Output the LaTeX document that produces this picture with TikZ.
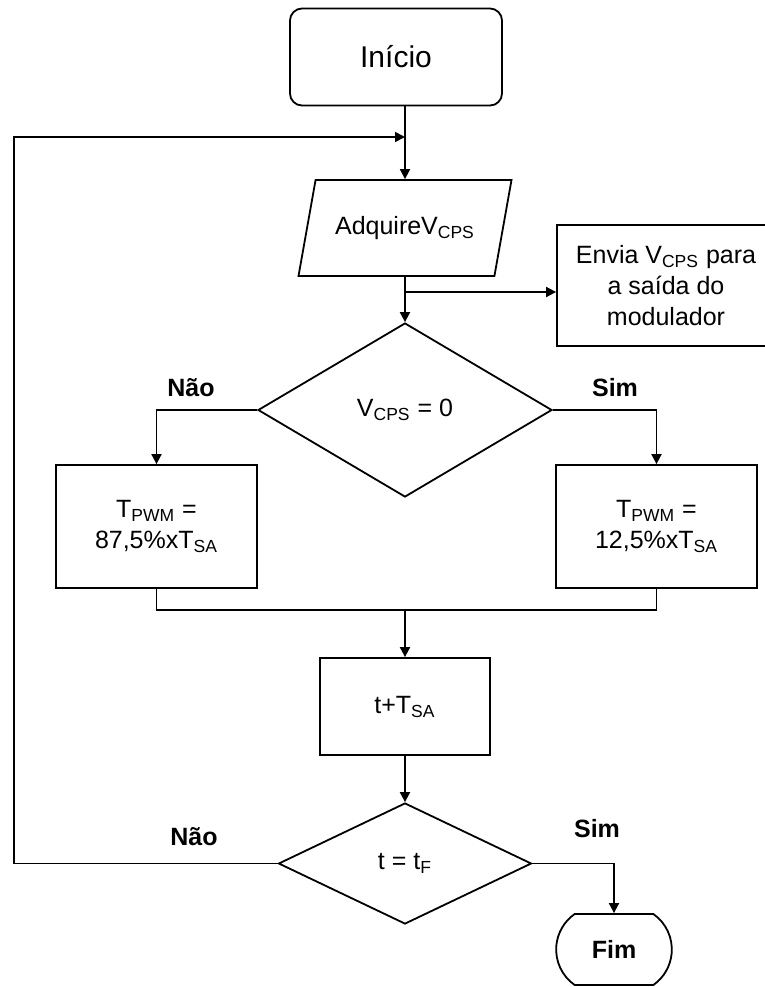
\documentclass[tikz,border=0pt]{standalone}
\usepackage{fontspec}
\setmainfont{Liberation Sans}
\usetikzlibrary{shapes.geometric, shapes.misc, arrows.meta}

\tikzset{
  inicio/.style={draw, rounded corners=6pt, minimum width=106pt, minimum height=48.5pt,
    font=\fontsize{15}{18}\selectfont},
  entrada/.style={draw, trapezium, trapezium left angle=65, trapezium right angle=115,
    trapezium stretches body, minimum width=106.5pt, minimum height=48pt},
  caixa/.style={draw, rectangle, align=center, inner sep=2pt},
  decisao/.style={draw, diamond, inner sep=0pt},
  terminal/.style={draw, rounded rectangle, rounded rectangle arc length=110,
    minimum width=64.5pt, minimum height=35.5pt, font=\fontsize{12.5}{15.5}\selectfont\bfseries},
  rotulo/.style={font=\fontsize{12.5}{15.5}\selectfont\bfseries},
}

\begin{document}
\begin{tikzpicture}[x=0.5pt, y=-0.5pt, line width=0.9pt, >={Triangle[length=5pt,width=5pt]},
    font=\fontsize{12.5}{15.5}\selectfont]

        \useasboundingbox (0,0) rectangle (765,987);

        % Start
        \node[inicio] (ini) at (396,57) {Início};

        % Read V_CPS
        \node[entrada] (adq) at (405,228) {AdquireV\textsubscript{CPS}};
        \coordinate (retorno) at (405,137);
        \coordinate (ramo) at (405,292);

        % Output to modulator
        \node[caixa, minimum width=109pt, minimum height=60.5pt] (envia) at (666,285.5)
            {Envia V\textsubscript{CPS} para\\a saída do\\modulador};

        % First decision
        \node[decisao, minimum width=147pt, minimum height=87pt] (d1) at (405,410)
            {V\textsubscript{CPS} = 0};
        \node[caixa, minimum width=100.5pt, minimum height=61.5pt] (esq) at (156.5,526.5)
            {T\textsubscript{PWM} =\\87,5\%xT\textsubscript{SA}};
        \node[caixa, minimum width=100.5pt, minimum height=61.5pt] (dir) at (656.5,526.5)
            {T\textsubscript{PWM} =\\12,5\%xT\textsubscript{SA}};
        \node[rotulo] (nao1) at (191,388) {Não};
        \node[rotulo] (sim1) at (615,388) {Sim};

        % Time step
        \coordinate (juncao) at (405,610);
        \node[caixa, minimum width=85pt, minimum height=48.5pt] (soma) at (405,706.5)
            {t+T\textsubscript{SA}};

        % Second decision
        \node[decisao, minimum width=126.5pt, minimum height=60.5pt] (d2) at (405,863.5)
            {t = t\textsubscript{F}};
        \node[rotulo] (nao2) at (194,837) {Não};
        \node[rotulo] (sim2) at (597,829) {Sim};

        % End
        \node[terminal] (fim) at (614,949.5) {Fim};

        % Connectors
        \draw[->] (ini.south -| adq.north) -- (adq.north);
        \draw[->] (ramo) -- (ramo -| envia.west);
        \draw[->] (adq.south) -- (d1.north);
        \draw[->] (d1.west) -| (esq.north);
        \draw[->] (d1.east) -| (dir.north);
        \draw (esq.south) |- (juncao) -| (dir.south);
        \draw[->] (juncao) -- (soma.north);
        \draw[->] (soma.south) -- (d2.north);
        \draw[->] (d2.west) -- ++(-263.5,0) |- (retorno);
        \draw[->] (d2.east) -| (fim.north);

\end{tikzpicture}
\end{document}
